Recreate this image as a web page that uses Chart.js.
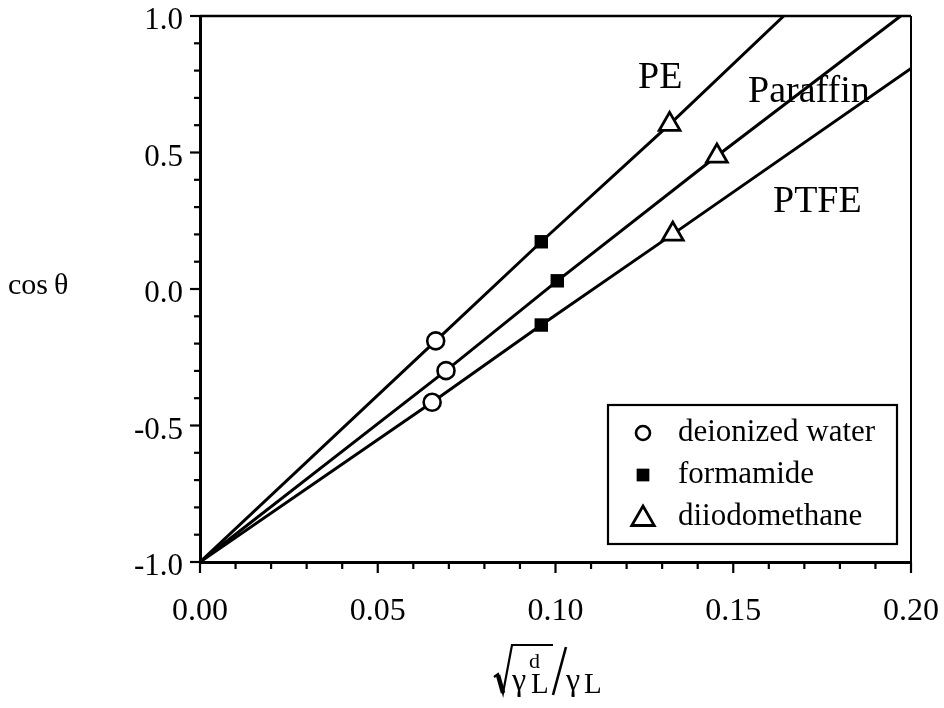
<!DOCTYPE html>
<html><head><meta charset="utf-8">
<script src="https://cdn.jsdelivr.net/npm/chart.js@4.4.1/dist/chart.umd.min.js"></script>
<style>html,body{margin:0;padding:0;background:#fff}#wrap{width:944px;height:708px;position:relative}</style>
</head><body><div id="wrap"><canvas id="c" width="944" height="708"></canvas></div>
<script>
// ---- data ----
const surfaces = ['PE', 'Paraffin', 'PTFE'];
const liquids = ['deionized water', 'formamide', 'diiodomethane'];
const waterX = [0.0663, 0.0692, 0.0653];
const waterY = [-0.190, -0.299, -0.415];
const formamideX = [0.0960, 0.1005, 0.0960];
const formamideY = [0.173, 0.030, -0.132];
const diiodoX = [0.1321, 0.1454, 0.1330];
const diiodoY = [0.603, 0.487, 0.201];
const lineStartX = [0, 0, 0];
const lineStartY = [-1, -1, -1];
const lineEndX = [0.1642, 0.1971, 0.2000];
const lineEndY = [1.0, 1.0, 0.808];
const xTickLabels = ['0.00', '0.05', '0.10', '0.15', '0.20'];
const yTickLabels = ['-1.0', '-0.5', '0.0', '0.5', '1.0'];

const FONT = '"Liberation Serif", "Times New Roman", serif';

function pts(xs, ys) { return xs.map((x, i) => ({ x: x, y: ys[i] })); }

const lineDatasets = surfaces.map((s, i) => ({
  label: s,
  data: [
    { x: lineStartX[i], y: lineStartY[i] },
    { x: waterX[i], y: waterY[i] },
    { x: formamideX[i], y: formamideY[i] },
    { x: diiodoX[i], y: diiodoY[i] },
    { x: lineEndX[i], y: lineEndY[i] }
  ],
  showLine: true,
  borderColor: '#000',
  borderWidth: 3,
  pointRadius: 0,
  tension: 0,
  order: 5
}));

const markerStyles = [
  { pointStyle: 'circle', pointRadius: 8.5, backgroundColor: '#fff', borderWidth: 2.6 },
  { pointStyle: 'rect', pointRadius: 9.5, backgroundColor: '#000', borderWidth: 0 },
  { pointStyle: 'triangle', pointRadius: 12, backgroundColor: '#fff', borderWidth: 2.8 }
];
const markerData = [pts(waterX, waterY), pts(formamideX, formamideY), pts(diiodoX, diiodoY)];
const markerDatasets = liquids.map((l, i) => Object.assign({
  label: l,
  data: markerData[i],
  showLine: false,
  borderColor: '#000',
  order: 1
}, markerStyles[i]));

function fmtX(v) { if (Math.abs(v) < 1e-9) v = 0; const s = v.toFixed(2); return xTickLabels.includes(s) ? s : ''; }
function fmtY(v) { if (Math.abs(v) < 1e-9) v = 0; const s = v.toFixed(1); return yTickLabels.includes(s) ? s : ''; }

const decor = {
  id: 'decor',
  afterDraw(chart) {
    const ctx = chart.ctx, a = chart.chartArea;
    const xs = chart.scales.x, ys = chart.scales.y;
    ctx.save();
    ctx.strokeStyle = '#000';
    ctx.fillStyle = '#000';
    // frame top / right
    ctx.lineWidth = 2.4;
    ctx.beginPath();
    ctx.moveTo(a.left, a.top); ctx.lineTo(a.right, a.top);
    ctx.stroke();
    ctx.lineWidth = 2;
    ctx.beginPath();
    ctx.moveTo(a.right, a.top); ctx.lineTo(a.right, a.bottom);
    ctx.stroke();
    // tick marks
    ctx.lineWidth = 2.2;
    xs.ticks.forEach(t => {
      const px = xs.getPixelForValue(t.value);
      const major = fmtX(t.value) !== '';
      ctx.beginPath(); ctx.moveTo(px, a.bottom); ctx.lineTo(px, a.bottom + (major ? 11 : 7)); ctx.stroke();
    });
    ys.ticks.forEach(t => {
      const py = ys.getPixelForValue(t.value);
      const major = fmtY(t.value) !== '';
      ctx.beginPath(); ctx.moveTo(a.left, py); ctx.lineTo(a.left - (major ? 10 : 6), py); ctx.stroke();
    });
    // surface labels
    ctx.font = '38px ' + FONT;
    ctx.textAlign = 'left';
    ctx.textBaseline = 'alphabetic';
    ctx.fillText(surfaces[0], 638, 88);
    ctx.fillText(surfaces[1], 748, 102);
    ctx.fillText(surfaces[2], 773, 212);
    // legend box
    ctx.lineWidth = 2.2;
    ctx.fillStyle = '#fff';
    ctx.fillRect(608, 405, 289, 139);
    ctx.strokeRect(608, 405, 289, 139);
    const rows = [433, 475, 517];
    liquids.forEach((l, i) => {
      const st = markerStyles[i];
      ctx.fillStyle = st.backgroundColor;
      ctx.strokeStyle = '#000';
      ctx.lineWidth = st.borderWidth || 0;
      const r = i === 0 ? 7 : (i === 1 ? 9 : 13);
      Chart.helpers.drawPoint(ctx, { pointStyle: st.pointStyle, radius: r, rotation: 0, borderWidth: st.borderWidth }, 643, rows[i] + (i === 2 ? 2 : 0));
      ctx.fillStyle = '#000';
      ctx.font = '31px ' + FONT;
      ctx.textBaseline = 'middle';
      ctx.fillText(l, 678, rows[i]);
    });
    // y title
    ctx.textBaseline = 'alphabetic';
    ctx.font = '30px ' + FONT;
    ctx.fillText('cos\u2009\u03b8', 8, 294);
    // x title: sqrt(gamma_L^d)/gamma_L
    ctx.lineWidth = 2.2;
    ctx.lineJoin = 'miter';
    ctx.beginPath();
    ctx.moveTo(494, 677);
    ctx.lineTo(498, 674);
    ctx.lineTo(503, 693);
    ctx.lineTo(512, 645);
    ctx.lineTo(553, 645);
    ctx.stroke();
    ctx.lineWidth = 4.5;
    ctx.beginPath(); ctx.moveTo(498, 675); ctx.lineTo(503, 693); ctx.stroke();
    ctx.font = '32px ' + FONT;
    ctx.fillText('\u03b3', 512, 690);
    ctx.font = '29px ' + FONT;
    ctx.fillText('L', 531, 693);
    ctx.font = '22px ' + FONT;
    ctx.fillText('d', 529, 668);
    ctx.lineWidth = 2.6;
    ctx.beginPath(); ctx.moveTo(566, 647); ctx.lineTo(553, 695); ctx.stroke();
    ctx.font = '32px ' + FONT;
    ctx.fillText('\u03b3', 566, 690);
    ctx.font = '29px ' + FONT;
    ctx.fillText('L', 584, 693);
    ctx.restore();
  }
};

new Chart(document.getElementById('c'), {
  type: 'scatter',
  data: { datasets: markerDatasets.concat(lineDatasets) },
  options: {
    responsive: false,
    animation: false,
    devicePixelRatio: 1,
    layout: { padding: { top: 16, right: 33, left: 0, bottom: 0 } },
    plugins: { legend: { display: false }, tooltip: { enabled: false } },
    scales: {
      x: {
        type: 'linear', min: 0, max: 0.2,
        grid: { display: false },
        border: { display: true, color: '#000', width: 3 },
        ticks: { stepSize: 0.01, autoSkip: false, maxRotation: 0, padding: 22, color: '#000', font: { family: FONT, size: 32 }, callback: fmtX },
        afterFit(s) { s.height = 146; s.paddingLeft = 0; s.paddingRight = 0; }
      },
      y: {
        type: 'linear', min: -1, max: 1,
        grid: { display: false },
        border: { display: true, color: '#000', width: 3 },
        ticks: { stepSize: 0.1, autoSkip: false, padding: 9, labelOffset: 5, color: '#000', font: { family: FONT, size: 31 }, callback: fmtY },
        afterFit(s) { s.width = 200; s.paddingTop = 0; s.paddingBottom = 0; }
      }
    }
  },
  plugins: [decor]
});
</script></body></html>
